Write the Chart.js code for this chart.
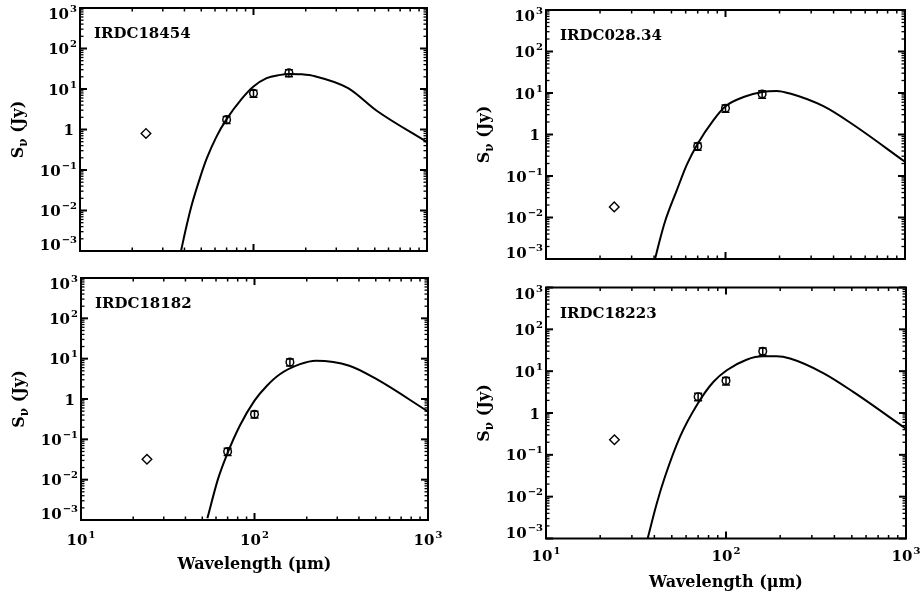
<!DOCTYPE html>
<html><head><meta charset="utf-8">
<script src="https://cdn.jsdelivr.net/npm/chart.js@4.4.0/dist/chart.umd.min.js"></script>
<style>
html,body{margin:0;padding:0;background:#fff;}
#wrap{position:relative;width:920px;height:597px;overflow:hidden;}
canvas{position:absolute;left:0;top:0;}
</style></head><body>
<div id="wrap">
<canvas id="c0" width="920" height="597"></canvas>
<canvas id="c1" width="920" height="597"></canvas>
<canvas id="c2" width="920" height="597"></canvas>
<canvas id="c3" width="920" height="597"></canvas>
</div>
<script>
// ---------------- data ----------------
const sourceNames = ['IRDC18454', 'IRDC028.34', 'IRDC18182', 'IRDC18223'];
const lam24 = [24];
const lamPACS = [70, 100, 160];

const flux24_18454 = [0.8];
const pacs_18454 = [1.75, 7.8, 25];
const err_18454 = [0.35, 1.5, 5];
const modLam_18454 = [38.2, 41.2, 44, 48.8, 53.7, 61, 70, 85.5, 100, 119, 140, 162, 190, 226, 351, 513, 1000];
const modFlux_18454 = [1e-3, 4.3e-3, 0.0135, 0.058, 0.19, 0.65, 1.8, 5.7, 11.5, 18.5, 22, 23.5, 23, 20.6, 10.5, 2.9, 0.49];

const flux24_02834 = [0.018];
const pacs_02834 = [0.52, 4.3, 9.4];
const err_02834 = [0.1, 0.85, 1.9];
const modLam_02834 = [40.5, 43, 46, 53.5, 61, 70, 85.5, 100, 126, 160, 193, 229, 351, 503, 1000];
const modFlux_02834 = [1e-3, 2.8e-3, 7.9e-3, 0.045, 0.19, 0.6, 2.2, 4.8, 8, 10.6, 11.2, 9.7, 4.8, 1.84, 0.22];

const flux24_18182 = [0.032];
const pacs_18182 = [0.05, 0.42, 8.2];
const err_18182 = [0.01, 0.08, 1.6];
const modLam_18182 = [53.5, 61.7, 69.7, 82.4, 100, 117.6, 140, 183, 226, 352, 506, 1000];
const modFlux_18182 = [1.1e-3, 0.0106, 0.044, 0.22, 0.91, 2.1, 4.1, 7.3, 8.9, 6.7, 3.1, 0.49];

const flux24_18223 = [0.23];
const pacs_18223 = [2.45, 5.9, 30];
const err_18223 = [0.5, 1.2, 6];
const modLam_18223 = [36.7, 41.2, 45.8, 55.5, 69.6, 85, 101, 130, 161, 191, 227, 347, 509, 1000];
const modFlux_18223 = [1e-3, 6.8e-3, 0.03, 0.27, 1.67, 5.5, 10.5, 18.8, 22.6, 22.6, 20, 9, 3.2, 0.42];

// axis ticks
const xMajor = [10, 100, 1000];
const xMinor = [20, 30, 40, 50, 60, 70, 80, 90, 200, 300, 400, 500, 600, 700, 800, 900];
const yMajor = [1e-3, 1e-2, 1e-1, 1, 10, 100, 1000];
const yMajorExp = ['−3', '−2', '−1', '0', '1', '2', '3'];
const xMajorExp = ['1', '2', '3'];
const yMinorMult = [2, 3, 4, 5, 6, 7, 8, 9];
const xTitle = 'Wavelength (μm)';

// ---------------- layout (panel boxes in page pixels) ----------------
const panels = [
  {L: 80, T: 8, R: 427, B: 251, xlab: false, xoff: 0},
  {L: 546, T: 10, R: 905, B: 259, xlab: false, xoff: 0},
  {L: 81, T: 278, R: 428, B: 520, xlab: true, xoff: 25},
  {L: 546, T: 287.5, R: 906, B: 538.5, xlab: true, xoff: 22}
];
const series = [
  [flux24_18454, pacs_18454, err_18454, modLam_18454, modFlux_18454],
  [flux24_02834, pacs_02834, err_02834, modLam_02834, modFlux_02834],
  [flux24_18182, pacs_18182, err_18182, modLam_18182, modFlux_18182],
  [flux24_18223, pacs_18223, err_18223, modLam_18223, modFlux_18223]
];

const FONT = '"DejaVu Serif", "Liberation Serif", serif';
const W = 920, H = 597;

function pts(xs, ys) { return xs.map((x, i) => ({x: x, y: ys[i]})); }

function drawPow(ctx, exp, x, y, align) {
  const baseFont = 'bold 15px ' + FONT, supFont = 'bold 10px ' + FONT;
  let base = '10', sup = exp;
  if (exp === '0') { base = '1'; sup = ''; }
  ctx.font = baseFont; const wb = ctx.measureText(base).width;
  ctx.font = supFont; const ws = sup ? ctx.measureText(sup).width + 1 : 0;
  const tw = wb + ws;
  let x0 = align === 'right' ? x - tw : x - tw / 2;
  if (exp === '0' && align === 'right') x0 -= 3;
  ctx.textAlign = 'left'; ctx.textBaseline = 'alphabetic';
  ctx.font = baseFont; ctx.fillText(base, x0, y);
  if (sup) { ctx.font = supFont; ctx.fillText(sup, x0 + wb + 1, y - 7); }
}

const idlPlugin = {
  id: 'idl',
  beforeDatasetsDraw(chart, args, opts) {
    const ctx = chart.ctx, xs = chart.scales.x, ys = chart.scales.y;
    const d = opts.series;
    ctx.save();
    ctx.strokeStyle = '#000'; ctx.lineWidth = 1.5;
    lamPACS.forEach((l, i) => {
      const px = xs.getPixelForValue(l);
      const p1 = ys.getPixelForValue(d[1][i] - d[2][i]);
      const p2 = ys.getPixelForValue(d[1][i] + d[2][i]);
      ctx.beginPath();
      ctx.moveTo(px, p1); ctx.lineTo(px, p2);
      ctx.moveTo(px - 4, p1); ctx.lineTo(px + 4, p1);
      ctx.moveTo(px - 4, p2); ctx.lineTo(px + 4, p2);
      ctx.stroke();
    });
    ctx.restore();
  },
  afterDraw(chart, args, opts) {
    const ctx = chart.ctx, xs = chart.scales.x, ys = chart.scales.y;
    const a = chart.chartArea;
    ctx.save();
    ctx.fillStyle = '#000'; ctx.strokeStyle = '#000';
    ctx.lineWidth = 2;
    ctx.strokeRect(a.left, a.top, a.right - a.left, a.bottom - a.top);
    const tick = (x1, y1, x2, y2, w) => { ctx.lineWidth = w; ctx.beginPath(); ctx.moveTo(x1, y1); ctx.lineTo(x2, y2); ctx.stroke(); };
    xMajor.forEach(v => { const px = xs.getPixelForValue(v); tick(px, a.bottom, px, a.bottom - 7, 2); tick(px, a.top, px, a.top + 7, 2); });
    xMinor.forEach(v => { const px = xs.getPixelForValue(v); tick(px, a.bottom, px, a.bottom - 3.5, 1.5); tick(px, a.top, px, a.top + 3.5, 1.5); });
    yMajor.forEach(v => { const py = ys.getPixelForValue(v); tick(a.left, py, a.left + 7, py, 2); tick(a.right, py, a.right - 7, py, 2); });
    yMajor.slice(0, -1).forEach(v => yMinorMult.forEach(m => {
      const py = ys.getPixelForValue(v * m); tick(a.left, py, a.left + 3.5, py, 1.3); tick(a.right, py, a.right - 3.5, py, 1.3);
    }));
    yMajor.forEach((v, i) => {
      const py = ys.getPixelForValue(v);
      const by = Math.min(Math.max(py + 5.5, a.top + 11), a.bottom - 1);
      drawPow(ctx, yMajorExp[i], a.left - 3, by, 'right');
    });
    if (opts.xlab) {
      xMajor.forEach((v, i) => {
        const px = xs.getPixelForValue(v);
        drawPow(ctx, xMajorExp[i], px, a.bottom + opts.xoff, 'center');
      });
      ctx.font = 'bold 16px ' + FONT; ctx.textAlign = 'center'; ctx.textBaseline = 'alphabetic';
      ctx.fillText(xTitle, (a.left + a.right) / 2, a.bottom + 48.5);
    }
    ctx.save();
    ctx.translate(a.left - 61, (a.top + a.bottom) / 2);
    ctx.rotate(-Math.PI / 2);
    ctx.textAlign = 'left'; ctx.textBaseline = 'middle';
    const f1 = 'bold 16px ' + FONT, f2 = 'bold 12px ' + FONT;
    ctx.font = f1; const w1 = ctx.measureText('S').width; const w3 = ctx.measureText(' (Jy)').width;
    ctx.font = f2; const w2 = ctx.measureText('ν').width;
    let x0 = -(w1 + w2 + w3) / 2;
    ctx.font = f1; ctx.fillText('S', x0, 0);
    ctx.font = f2; ctx.fillText('ν', x0 + w1, 5);
    ctx.font = f1; ctx.fillText(' (Jy)', x0 + w1 + w2, 0);
    ctx.restore();
    ctx.font = 'bold 15px ' + FONT; ctx.textAlign = 'left'; ctx.textBaseline = 'alphabetic';
    ctx.fillText(opts.name, a.left + 14, a.top + 30);
    ctx.restore();
  }
};

panels.forEach((p, k) => {
  const d = series[k];
  new Chart(document.getElementById('c' + k), {
    type: 'line',
    data: {
      datasets: [
        {data: pts(d[3], d[4]), borderColor: '#000', borderWidth: 2, pointRadius: 0,
         cubicInterpolationMode: 'monotone', fill: false},
        {data: pts(lamPACS, d[1]), showLine: false, pointStyle: 'circle', pointRadius: 3.8,
         borderColor: '#000', borderWidth: 1.5, backgroundColor: 'rgba(0,0,0,0)'},
        {data: pts(lam24, d[0]), showLine: false, pointStyle: 'rectRot', pointRadius: 4.8,
         borderColor: '#000', borderWidth: 1.4, backgroundColor: 'rgba(0,0,0,0)'}
      ]
    },
    options: {
      responsive: false, animation: false, events: [],
      layout: {padding: {left: p.L, top: p.T, right: W - p.R, bottom: H - p.B}},
      plugins: {legend: {display: false}, tooltip: {enabled: false},
        idl: {series: d, xlab: p.xlab, xoff: p.xoff, name: sourceNames[k]}},
      scales: {
        x: {type: 'logarithmic', min: 10, max: 1000, display: false},
        y: {type: 'logarithmic', min: 1e-3, max: 1e3, display: false}
      }
    },
    plugins: [idlPlugin]
  });
});
</script>
</body></html>
